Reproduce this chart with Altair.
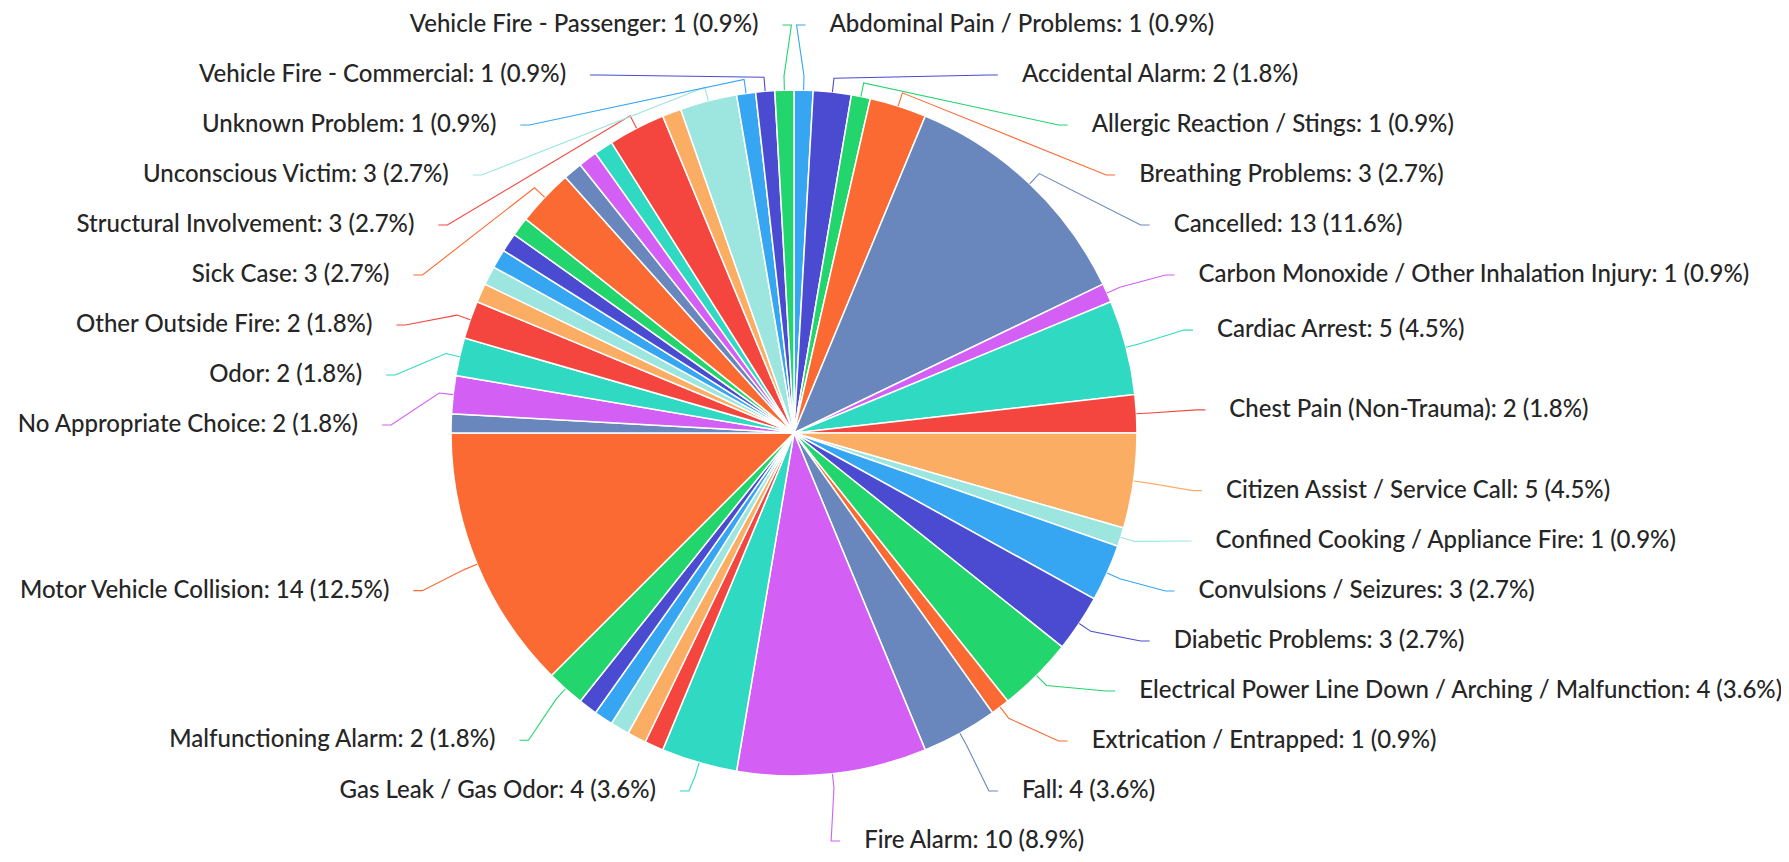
import math
import altair as alt
import pandas as pd

# ---------------- data ----------------
names = [
    "Abdominal Pain / Problems", "Accidental Alarm", "Allergic Reaction / Stings",
    "Breathing Problems", "Cancelled", "Carbon Monoxide / Other Inhalation Injury",
    "Cardiac Arrest", "Chest Pain (Non-Trauma)", "Citizen Assist / Service Call",
    "Confined Cooking / Appliance Fire", "Convulsions / Seizures", "Diabetic Problems",
    "Electrical Power Line Down / Arching / Malfunction", "Extrication / Entrapped",
    "Fall", "Fire Alarm", "Gas Leak / Gas Odor",
    "Hazardous Materials", "Headache", "Heart Problems / A.I.C.D.",
    "Hemorrhage / Lacerations", "Lift Assist",
    "Malfunctioning Alarm", "Motor Vehicle Collision", "Mutual Aid",
    "No Appropriate Choice", "Odor", "Other Outside Fire",
    "Overdose / Poisoning", "Pregnancy / Childbirth", "Psychiatric / Abnormal Behavior",
    "Public Service", "Rescue",
    "Sick Case", "Smoke Investigation", "Stab / Gunshot / Penetrating Trauma",
    "Stroke / CVA", "Structural Involvement", "Traumatic Injuries",
    "Unconscious Victim", "Unknown Problem", "Vehicle Fire - Commercial",
    "Vehicle Fire - Passenger",
]
values = [
    1, 2, 1, 3, 13, 1, 5, 2, 5, 1, 3, 3, 4, 1, 4, 10, 4,
    1, 1, 1, 1, 1,
    2, 14, 1,
    2, 2, 2,
    1, 1, 1, 1, 1,
    3, 1, 1, 1, 3, 1,
    3, 1, 1, 1,
]
# 1 = the slice carries a visible label in the reference
labelled = [
    1, 1, 1, 1, 1, 1, 1, 1, 1, 1, 1, 1, 1, 1, 1, 1, 1,
    0, 0, 0, 0, 0,
    1, 1, 0,
    1, 1, 1,
    0, 0, 0, 0, 0,
    1, 0, 0, 0, 1, 0,
    1, 1, 1, 1,
]
palette = ["#36a6f2", "#4b4bd2", "#22d56c", "#fa6a32", "#6987bd",
           "#d35ff5", "#2fd9c2", "#f4463f", "#fcad64", "#9ce6df"]
colors = [palette[i % len(palette)] for i in range(len(names))]

# ---------------- layout constants ----------------
R = 343        # pie radius (px)
RL = 412       # label ring radius (px)
YB = 408       # vertical bound of label centres
GAP = 50       # minimum vertical distance between labels
PAD = 24       # gap between connector end and text
BREAK = 14     # radial length of the first connector segment
TAIL = 9       # short horizontal end of the connector

total = sum(values)
slices = pd.DataFrame({"name": names, "value": values, "idx": range(len(names))})

# label layout (Highcharts-like distribution on each side)
cum = 0.0
items = []
for i, (n, v) in enumerate(zip(names, values)):
    mid = (cum + v / 2) / total * 2 * math.pi
    cum += v
    if labelled[i]:
        pct = v / total * 100
        items.append({"name": n, "idx": i, "mid": mid,
                      "side": "R" if mid < math.pi else "L",
                      "init": -RL * math.cos(mid),
                      "text": f"{n}: {v} ({pct:.1f}%)"})


def distribute(group, top, bottom):
    group = sorted(group, key=lambda d: d["init"])
    ys = [d["init"] for d in group]
    for k in range(len(ys)):
        lo = top if k == 0 else ys[k - 1] + GAP
        ys[k] = max(ys[k], lo)
    for k in range(len(ys) - 1, -1, -1):
        hi = bottom if k == len(ys) - 1 else ys[k + 1] - GAP
        ys[k] = min(ys[k], hi)
    for d, y in zip(group, ys):
        d["dy"] = y
        # labels held at a bound keep the x of their natural position
        d["xref"] = d["init"] if (y <= top + 1 or y >= bottom - 1) else y


distribute([d for d in items if d["side"] == "R"], -YB, YB)
distribute([d for d in items if d["side"] == "L"], -YB, YB - GAP)

line_rows, text_rows = [], []
for d in items:
    s = 1 if d["side"] == "R" else -1
    ax = s * math.sqrt(max(0.0, RL ** 2 - d["xref"] ** 2))
    sx, cy = math.sin(d["mid"]), math.cos(d["mid"])
    pts = [(R * sx, R * cy), ((R + BREAK) * sx, (R + BREAK) * cy),
           (ax - s * TAIL, -d["dy"]), (ax, -d["dy"])]
    for k, (px, py) in enumerate(pts):
        line_rows.append({"name": d["name"], "pt": k, "x": px, "y": py})
    text_rows.append({"name": d["name"], "side": d["side"], "text": d["text"],
                      "x": ax + s * PAD, "y": -d["dy"]})

lines = pd.DataFrame(line_rows)
texts = pd.DataFrame(text_rows)

# ---------------- chart ----------------
W, H = 1773, 846
xs = alt.Scale(domain=[-786, W - 786], nice=False, zero=False)
ys = alt.Scale(domain=[-421, H - 421], nice=False, zero=False)
color = alt.Color("name:N", scale=alt.Scale(domain=names, range=colors), legend=None)

pie = alt.Chart(slices).mark_arc(radius=R, stroke="white", strokeWidth=1.5).encode(
    theta=alt.Theta("value:Q", stack=True),
    order=alt.Order("idx:Q"),
    color=color,
    x=alt.datum(0, scale=xs, axis=None),
    y=alt.datum(0, scale=ys, axis=None),
)

connectors = alt.Chart(lines).mark_line(strokeWidth=1.1).encode(
    x=alt.X("x:Q", scale=xs, axis=None),
    y=alt.Y("y:Q", scale=ys, axis=None),
    detail="name:N",
    order=alt.Order("pt:Q"),
    color=color,
)

text_common = dict(font="Lato", fontSize=24, fontWeight=500, color="#262626",
                   baseline="middle")
right_text = alt.Chart(texts).transform_filter(alt.datum.side == "R").mark_text(
    align="left", **text_common).encode(
    x=alt.X("x:Q", scale=xs, axis=None),
    y=alt.Y("y:Q", scale=ys, axis=None),
    text="text:N",
)
left_text = alt.Chart(texts).transform_filter(alt.datum.side == "L").mark_text(
    align="right", **text_common).encode(
    x=alt.X("x:Q", scale=xs, axis=None),
    y=alt.Y("y:Q", scale=ys, axis=None),
    text="text:N",
)

chart = alt.layer(pie, connectors, right_text, left_text).properties(
    width=W, height=H, padding=0, autosize=alt.AutoSizeParams(type="none"),
    background="white",
).configure_view(strokeWidth=0)

chart.save("out.html", embed_options={"renderer": "svg", "actions": False})
